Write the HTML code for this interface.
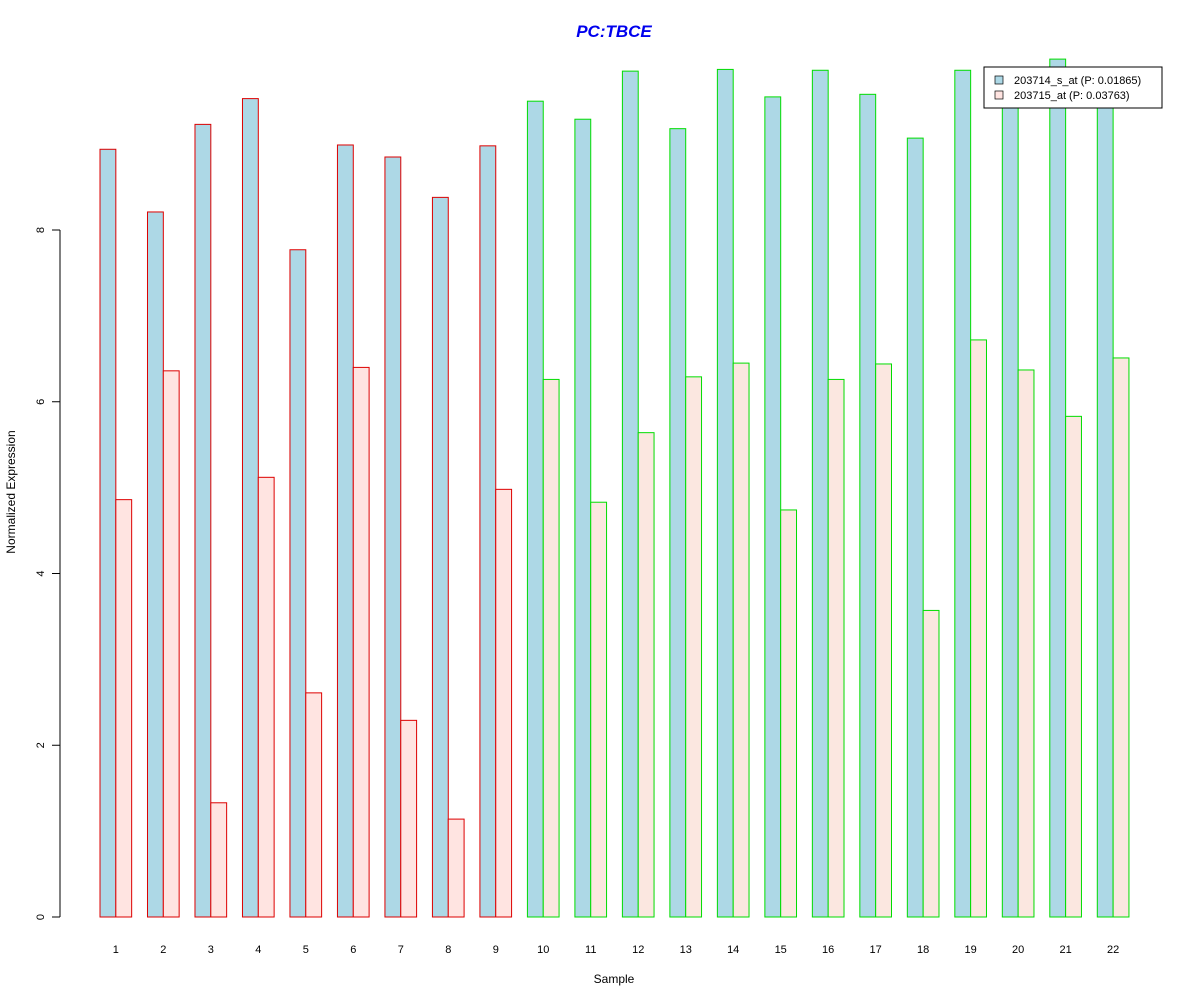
<!DOCTYPE html>
<html><head><meta charset="utf-8"><style>
body{margin:0;background:#fff;font-family:"Liberation Sans",Arial,sans-serif}
</style></head><body>
<svg id="c" width="1200" height="1000" xmlns="http://www.w3.org/2000/svg" style="font-family:'Liberation Sans',Arial,sans-serif">
<text x="614" y="37" text-anchor="middle" font-size="17" font-weight="bold" font-style="italic" fill="#0000EE">PC:TBCE</text>
<text x="614" y="983" text-anchor="middle" font-size="12">Sample</text>
<text transform="translate(15,492) rotate(-90)" text-anchor="middle" font-size="12">Normalized Expression</text>
<g id="bars"></g>
<g id="yaxis"></g>
<g id="xlabels"></g>
<g>
<rect x="984" y="67" width="178" height="41" fill="#fff" stroke="#000"/>
<rect x="995" y="76" width="8" height="8" fill="#ADD8E6" stroke="#000" stroke-width="0.7"/>
<text x="1014" y="84" font-size="11">203714_s_at (P: 0.01865)</text>
<rect x="995" y="91" width="8" height="8" fill="#FFE4E1" stroke="#000" stroke-width="0.7"/>
<text x="1014" y="99" font-size="11">203715_at (P: 0.03763)</text>
</g>
</svg>
<script>
const categories=["1","2","3","4","5","6","7","8","9","10","11","12","13","14","15","16","17","18","19","20","21","22"];
const series1=[8.94,8.21,9.23,9.53,7.77,8.99,8.85,8.38,8.98,9.50,9.29,9.85,9.18,9.87,9.55,9.86,9.58,9.07,9.86,9.70,9.99,9.60];
const series2=[4.86,6.36,1.33,5.12,2.61,6.40,2.29,1.14,4.98,6.26,4.83,5.64,6.29,6.45,4.74,6.26,6.44,3.57,6.72,6.37,5.83,6.51];
const groupBorder=["red","red","red","red","red","red","red","red","red","green","green","green","green","green","green","green","green","green","green","green","green","green"];
const yTicks=[0,2,4,6,8];
const NS="http://www.w3.org/2000/svg";
const y=v=>917-v*85.875;
const U=15.83;
const xg=i=>100+i*3*U;
const bars=document.getElementById('bars');
function mk(t,a,p){const e=document.createElementNS(NS,t);for(const k in a)e.setAttribute(k,a[k]);p.appendChild(e);return e;}
categories.forEach((c,i)=>{
  const col=groupBorder[i]==="red"?"#DD0000":"#00DD00";
  const b1=mk('rect',{x:xg(i),y:y(series1[i]),width:U,height:y(0)-y(series1[i]),fill:'#ADD8E6',stroke:col},bars);
  
  
  const b2=mk('rect',{x:xg(i)+U,y:y(series2[i]),width:U,height:y(0)-y(series2[i]),fill:i<9?'#FFE4E1':'#FBE7E0',stroke:col},bars);
  
  
  const t=mk('text',{x:xg(i)+U,y:953,'text-anchor':'middle','font-size':11},document.getElementById('xlabels'));
  t.textContent=c;
  
  
});
const ya=document.getElementById('yaxis');
const ax=mk('line',{x1:60,x2:60,y1:y(0),y2:y(8),stroke:'#000'},ya);


yTicks.forEach(v=>{
  const tk=mk('line',{x1:52,x2:60,y1:y(v),y2:y(v),stroke:'#000'},ya);
  
  
  const t=mk('text',{transform:`translate(44,${y(v)}) rotate(-90)`,'text-anchor':'middle','font-size':11},ya);
  t.textContent=v;
  
  
});
</script>
</body></html>
